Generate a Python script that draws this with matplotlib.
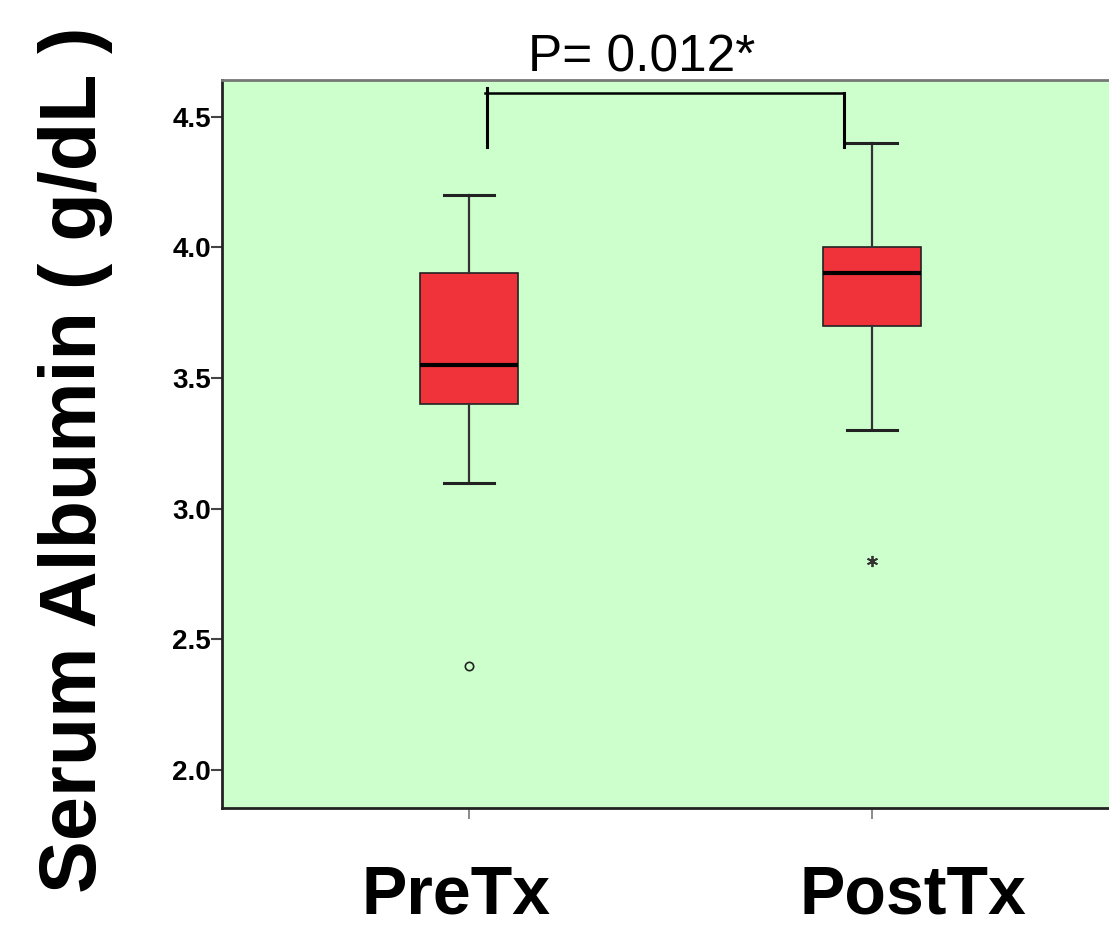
import matplotlib
matplotlib.use("Agg")
import matplotlib.pyplot as plt

# ---- data ----
categories = ["PreTx", "PostTx"]
whisker_low = [3.1, 3.3]
q1 = [3.4, 3.7]
median = [3.55, 3.9]
q3 = [3.9, 4.0]
whisker_high = [4.2, 4.4]
outliers = [[2.4], [2.8]]
outlier_markers = ["o", "*"]
p_label = "P= 0.012*"
y_ticks = [2.0, 2.5, 3.0, 3.5, 4.0, 4.5]
y_label = "Serum Albumin ( g/dL )"

plt.rcParams['font.family'] = ['Liberation Sans', 'DejaVu Sans']

fig = plt.figure(figsize=(11.09, 9.31), dpi=100)
ax = fig.add_axes([222/1109, 123/931, 887/1109, 728/931])
ax.set_facecolor('#CCFFCC')

positions = [1, 2]
stats = []
for i, c in enumerate(categories):
    stats.append(dict(label=c, whislo=whisker_low[i], q1=q1[i], med=median[i],
                      q3=q3[i], whishi=whisker_high[i], fliers=[]))

ax.bxp(stats, positions=positions, widths=0.245, capwidths=0.125,
       patch_artist=True, showfliers=False,
       boxprops=dict(facecolor='#F0323A', edgecolor='#222222', linewidth=1.2),
       medianprops=dict(color='black', linewidth=3),
       whiskerprops=dict(color='#333333', linewidth=1.6),
       capprops=dict(color='#222222', linewidth=2.2))

for i, pos in enumerate(positions):
    for v in outliers[i]:
        if outlier_markers[i] == 'o':
            ax.plot([pos], [v], marker='o', markersize=6, markerfacecolor='none',
                    markeredgecolor='#222222', markeredgewidth=1.2, linestyle='none')
        else:
            ax.plot([pos], [v], marker=(6, 2, 0), markersize=8, color='#333333',
                    markeredgewidth=1.3, linestyle='none')

# significance bracket
ax.plot([1.04, 1.93], [4.592, 4.592], color='black', lw=1.8, clip_on=False)
ax.plot([1.045, 1.045], [4.385, 4.61], color='black', lw=2.2, clip_on=False)
ax.plot([1.93, 1.93], [4.385, 4.592], color='black', lw=2.2, clip_on=False)

ax.set_xlim(0.387, 2.588)
ax.set_ylim(1.855, 4.64)
ax.set_yticks(y_ticks)
ax.set_yticklabels([f"{t:.1f}" for t in y_ticks], fontsize=20, fontweight='bold')
ax.set_xticks(positions)
ax.set_xticklabels([])
ax.tick_params(axis='y', direction='out', length=8, width=1.5, color='#444444', pad=0)
ax.tick_params(axis='x', direction='out', length=8, width=1.2, color='#777777')

for s in ['left', 'bottom']:
    ax.spines[s].set_color('#222222')
    ax.spines[s].set_linewidth(2)
ax.spines['top'].set_color('#777777')
ax.spines['top'].set_linewidth(2)
ax.spines['right'].set_visible(False)

# category labels
label_x = [456/1109, 913/1109]
for i, c in enumerate(categories):
    fig.text(label_x[i], 1 - 913/931, c, fontsize=49, fontweight='bold',
             ha='center', va='baseline')

fig.text(642/1109, 1 - 72/931, p_label, fontsize=37, ha='center', va='baseline')
fig.text(76/1109, 1 - 460/931, y_label, fontsize=57, fontweight='bold',
         rotation=90, ha='center', va='center')

fig.savefig('out.png', dpi=100)
